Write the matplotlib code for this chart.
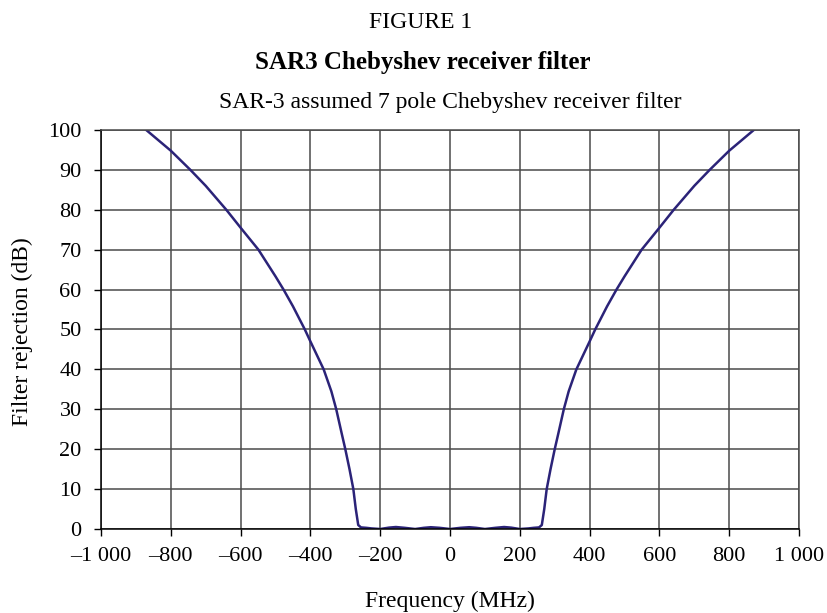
import matplotlib
matplotlib.use("Agg")
import matplotlib.pyplot as plt
from matplotlib.ticker import FixedLocator

freq_mhz = [-876, -800, -744, -700, -641, -600, -549, -500, -477, -450, -416, -400,
            -362, -340, -326, -310, -300, -288, -277, -270, -263, -255, -240, -225,
            -200, -175, -155, -130, -100, -75, -55, -30, 0,
            30, 55, 75, 100, 130, 155, 175, 200, 225, 240, 255, 263, 270, 277,
            288, 300, 310, 326, 340, 362, 400, 416, 450, 477, 500, 549, 600, 641,
            700, 744, 800, 876]
rejection_db = [100.4, 94.8, 90, 86, 80, 75.5, 70, 63.3, 60, 55.8, 50, 47,
                40, 34.5, 30, 23.8, 20, 15, 10, 5.0, 1.0, 0.4, 0.3, 0.15,
                0.0, 0.35, 0.5, 0.3, 0.0, 0.3, 0.45, 0.3, 0.0,
                0.3, 0.45, 0.3, 0.0, 0.3, 0.5, 0.35, 0.0, 0.15, 0.3, 0.4, 1.0, 5.0, 10,
                15, 20, 23.8, 30, 34.5, 40, 47, 50, 55.8, 60, 63.3, 70, 75.5, 80,
                86, 90, 94.8, 100.4]

x_ticks = [-1000, -800, -600, -400, -200, 0, 200, 400, 600, 800, 1000]
x_tick_labels = ["\u20131 000", "\u2013800", "\u2013600", "\u2013400", "\u2013200", "0",
                 "200", "400", "600", "800", "1 000"]
y_ticks = [0, 10, 20, 30, 40, 50, 60, 70, 80, 90, 100]

plt.rcParams['font.family'] = ['Liberation Serif', 'DejaVu Serif']

fig = plt.figure(figsize=(8.28, 6.13), dpi=100)
ax = fig.add_axes([0.122, 0.137, 0.843, 0.651])

ax.plot(freq_mhz, rejection_db, color='#2b2378', lw=1.8,
        solid_joinstyle='round', solid_capstyle='round')

ax.set_xlim(-1000, 1000)
ax.set_ylim(0, 100)
ax.xaxis.set_major_locator(FixedLocator(x_ticks))
ax.set_xticklabels(x_tick_labels)
ax.yaxis.set_major_locator(FixedLocator(y_ticks))
ax.grid(True, color='#4a4a4a', lw=1.1)
ax.set_axisbelow(True)
for s in ['top', 'right']:
    ax.spines[s].set_color('#4a4a4a')
    ax.spines[s].set_linewidth(1.1)
for s in ['left', 'bottom']:
    ax.spines[s].set_color('black')
    ax.spines[s].set_linewidth(1.1)
ax.tick_params(axis='both', direction='out', length=5, width=1.0, labelsize=16,
               colors='black')
ax.tick_params(axis='y', pad=9)
ax.tick_params(axis='x', pad=8)

ax_cx = 0.122 + 0.843 / 2
fig.text(0.508, 1 - 28 / 613, "FIGURE 1", ha='center', va='baseline', fontsize=17)
fig.text(0.511, 1 - 69 / 613, "SAR3 Chebyshev receiver filter", ha='center',
         va='baseline', fontsize=18, fontweight='bold')
fig.text(ax_cx, 1 - 108 / 613, "SAR-3 assumed 7 pole Chebyshev receiver filter",
         ha='center', va='baseline', fontsize=17)
fig.text(ax_cx, 1 - 607 / 613, "Frequency (MHz)", ha='center', va='baseline',
         fontsize=17)
fig.text(22 / 828, 1 - 332 / 613, "Filter rejection (dB)", ha='center', va='center',
         rotation=90, fontsize=17)

fig.savefig("out.png", dpi=100)
